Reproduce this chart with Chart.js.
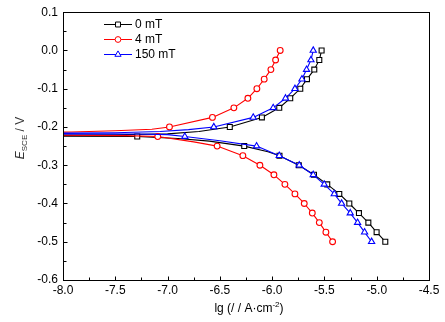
<!DOCTYPE html>
<html>
<head>
<meta charset="utf-8">
<script src="https://cdn.jsdelivr.net/npm/chart.js@4/dist/chart.umd.min.js"></script>
<style>
html,body{margin:0;padding:0;background:#fff;}
#wrap{width:445px;height:322px;}
</style>
</head>
<body>
<div id="wrap"><canvas id="c" width="445" height="322"></canvas></div>
<script>
// ---- data (E in V vs SCE, lg i in lg(A/cm2)) ----
const seriesNames = ['0 mT', '4 mT', '150 mT'];
const xTicks = [-8.0, -7.5, -7.0, -6.5, -6.0, -5.5, -5.0, -4.5];
const yTicks = [-0.6, -0.5, -0.4, -0.3, -0.2, -0.1, 0.0, 0.1];

const e0 = [0, -0.025, -0.05, -0.075, -0.1, -0.125, -0.15, -0.175, -0.2, -0.212, -0.218, -0.2205, -0.222,
            -0.2235, -0.225, -0.23, -0.237, -0.25, -0.265, -0.275, -0.3, -0.325, -0.35, -0.375, -0.4, -0.425, -0.45, -0.475, -0.5];
const lg0 = [-5.527, -5.549, -5.597, -5.667, -5.731, -5.827, -5.932, -6.098, -6.405, -6.7, -7.0, -7.5, -8.3,
             -8.3, -7.29, -6.9, -6.6, -6.267, -6.04, -5.93, -5.745, -5.60, -5.473, -5.358, -5.262, -5.170, -5.080, -5.001, -4.918];

const e4 = [0, -0.025, -0.05, -0.075, -0.1, -0.125, -0.15, -0.175, -0.2, -0.206, -0.21, -0.213, -0.2155,
            -0.2215, -0.2225, -0.225, -0.239, -0.25, -0.275, -0.3, -0.325, -0.35, -0.375, -0.4, -0.425, -0.45, -0.475, -0.5];
const lg4 = [-5.923, -5.967, -6.012, -6.076, -6.146, -6.232, -6.366, -6.571, -6.982, -7.15, -7.5, -7.92, -8.3,
             -8.3, -7.4, -7.094, -6.75, -6.526, -6.280, -6.117, -5.983, -5.878, -5.782, -5.693, -5.616, -5.549, -5.486, -5.422];

const e150 = [0, -0.025, -0.05, -0.075, -0.1, -0.125, -0.15, -0.175, -0.2, -0.207, -0.212, -0.215, -0.2165,
              -0.218, -0.2185, -0.22, -0.225, -0.236, -0.25, -0.275, -0.3, -0.325, -0.35, -0.375, -0.4, -0.425, -0.45, -0.475, -0.5];
const lg150 = [-5.607, -5.629, -5.671, -5.715, -5.782, -5.872, -5.990, -6.181, -6.558, -6.8, -7.07, -7.5, -8.3,
               -8.3, -7.3, -7.0, -6.835, -6.5, -6.149, -5.932, -5.741, -5.607, -5.502, -5.406, -5.336, -5.253, -5.183, -5.116, -5.049];

// ---- styling ----
const FONT = '"Liberation Sans", Arial, sans-serif';
const colors = ['#000000', '#ff0000', '#0000ff'];
const styles = ['rect', 'circle', 'triangle'];
const radii = [3.5, 2.9, 3.6];

// markers are drawn on the 0.025 V grid of measured points
const onGrid = v => Math.abs(v * 40 - Math.round(v * 40)) < 1e-6;

function mk(lg, e) { return lg.map((v, i) => ({x: v, y: e[i]})); }
const allData = [mk(lg0, e0), mk(lg4, e4), mk(lg150, e150)];

const datasets = allData.map((d, i) => ({
  label: seriesNames[i],
  data: d,
  order: 2 - i,
  borderColor: colors[i],
  backgroundColor: '#ffffff',
  borderWidth: 1.1,
  pointStyle: styles[i],
  pointBorderColor: colors[i],
  pointBackgroundColor: '#ffffff',
  pointBorderWidth: 1.1,
  pointRadius: ctx => (ctx.raw && onGrid(ctx.raw.y)) ? radii[i] : 0,
  tension: 0,
  fill: false
}));

function drawMarker(ctx, style, r, x, y) {
  ctx.beginPath();
  if (style === 'rect') {
    const s = Math.SQRT1_2 * r;
    ctx.rect(x - s, y - s, 2 * s, 2 * s);
  } else if (style === 'circle') {
    ctx.arc(x, y, r, 0, Math.PI * 2);
  } else {
    const a = 2 * Math.PI / 3;
    ctx.moveTo(x, y - r);
    ctx.lineTo(x + Math.sin(a) * r, y - Math.cos(a) * r);
    ctx.lineTo(x + Math.sin(2 * a) * r, y - Math.cos(2 * a) * r);
    ctx.closePath();
  }
  ctx.fillStyle = '#fff';
  ctx.fill();
  ctx.stroke();
}

const decor = {
  id: 'decor',
  afterDraw(chart) {
    const {ctx, chartArea: a, scales: {x, y}} = chart;
    ctx.save();
    ctx.strokeStyle = '#000';
    ctx.lineWidth = 1;
    const L = Math.round(a.left) + 0.5, R = Math.round(a.right) + 0.5;
    const T = Math.round(a.top) + 0.5, B = Math.round(a.bottom) + 0.5;
    ctx.strokeRect(L, T, R - L, B - T);
    // inward ticks
    ctx.beginPath();
    xTicks.forEach((v, i) => {
      const px = Math.round(x.getPixelForValue(v)) + 0.5;
      ctx.moveTo(px, B); ctx.lineTo(px, B - 4);
      if (i < xTicks.length - 1) {
        const pm = Math.round(x.getPixelForValue((v + xTicks[i + 1]) / 2)) + 0.5;
        ctx.moveTo(pm, B); ctx.lineTo(pm, B - 3);
      }
    });
    yTicks.forEach((v, i) => {
      const py = Math.round(y.getPixelForValue(v)) + 0.5;
      ctx.moveTo(L, py); ctx.lineTo(L + 4, py);
      if (i < yTicks.length - 1) {
        const pm = Math.round(y.getPixelForValue((v + yTicks[i + 1]) / 2)) + 0.5;
        ctx.moveTo(L, pm); ctx.lineTo(L + 3, pm);
      }
    });
    ctx.stroke();

    // legend
    const rows = [24, 39, 53.5];
    seriesNames.forEach((name, i) => {
      const yy = Math.round(rows[i]) + 0.5;
      ctx.strokeStyle = colors[i];
      ctx.lineWidth = 1;
      ctx.beginPath(); ctx.moveTo(104, yy); ctx.lineTo(132, yy); ctx.stroke();
      drawMarker(ctx, styles[i], radii[i], 118, yy);
      ctx.fillStyle = '#000';
      ctx.font = '12px ' + FONT;
      ctx.textAlign = 'left';
      ctx.textBaseline = 'middle';
      ctx.fillText(name, 135, yy + 0.5);
    });

    // x title: lg (/ / A·cm-2)
    ctx.fillStyle = '#000';
    ctx.textBaseline = 'alphabetic';
    ctx.textAlign = 'left';
    const p1 = 'lg (/ / A·cm', sup = '-2', p3 = ')';
    ctx.font = '12px ' + FONT; const w1 = ctx.measureText(p1).width, w3 = ctx.measureText(p3).width;
    ctx.font = '8px ' + FONT; const w2 = ctx.measureText(sup).width;
    let sx = 249 - (w1 + w2 + w3) / 2; const by = 312;
    ctx.font = '12px ' + FONT; ctx.fillText(p1, sx, by); sx += w1;
    ctx.font = '8px ' + FONT; ctx.fillText(sup, sx, by - 5); sx += w2;
    ctx.font = '12px ' + FONT; ctx.fillText(p3, sx, by);

    // y title: E_SCE / V (rotated)
    ctx.save();
    ctx.translate(24, 138);
    ctx.rotate(-Math.PI / 2);
    ctx.fillStyle = '#333';
    ctx.font = 'italic 12px ' + FONT; const we = ctx.measureText('E').width;
    ctx.font = '8px ' + FONT; const ws = ctx.measureText('SCE').width;
    ctx.font = '12px ' + FONT; const wv = ctx.measureText(' / V').width;
    let tx = -(we + ws + wv) / 2;
    ctx.font = 'italic 12px ' + FONT; ctx.fillText('E', tx, 0); tx += we;
    ctx.font = '8px ' + FONT; ctx.fillText('SCE', tx, 2.5); tx += ws;
    ctx.font = '12px ' + FONT; ctx.fillText(' / V', tx, 0);
    ctx.restore();

    ctx.restore();
  }
};

const fmt = v => (Math.abs(v) < 1e-9 ? 0 : v).toFixed(1);

new Chart(document.getElementById('c'), {
  type: 'line',
  data: {datasets},
  options: {
    responsive: false,
    animation: false,
    devicePixelRatio: 1,
    layout: {padding: {left: 0, top: 8, right: 16, bottom: 0}},
    plugins: {legend: {display: false}, tooltip: {enabled: false}},
    elements: {line: {borderJoinStyle: 'round'}},
    scales: {
      x: {
        type: 'linear', min: -8, max: -4.5,
        grid: {display: false, drawTicks: false},
        border: {display: false},
        afterBuildTicks: s => { s.ticks = xTicks.map(v => ({value: v})); },
        afterFit: s => { s.height = 42; },
        ticks: {color: '#000', font: {family: FONT, size: 12}, padding: 3, maxRotation: 0, callback: v => fmt(v)}
      },
      y: {
        type: 'linear', min: -0.6, max: 0.1,
        grid: {display: false, drawTicks: false},
        border: {display: false},
        afterBuildTicks: s => { s.ticks = yTicks.map(v => ({value: v})); },
        afterFit: s => { s.width = 63; },
        ticks: {color: '#000', font: {family: FONT, size: 12}, padding: 5, callback: v => fmt(v)}
      }
    }
  },
  plugins: [decor]
});
</script>
</body>
</html>
